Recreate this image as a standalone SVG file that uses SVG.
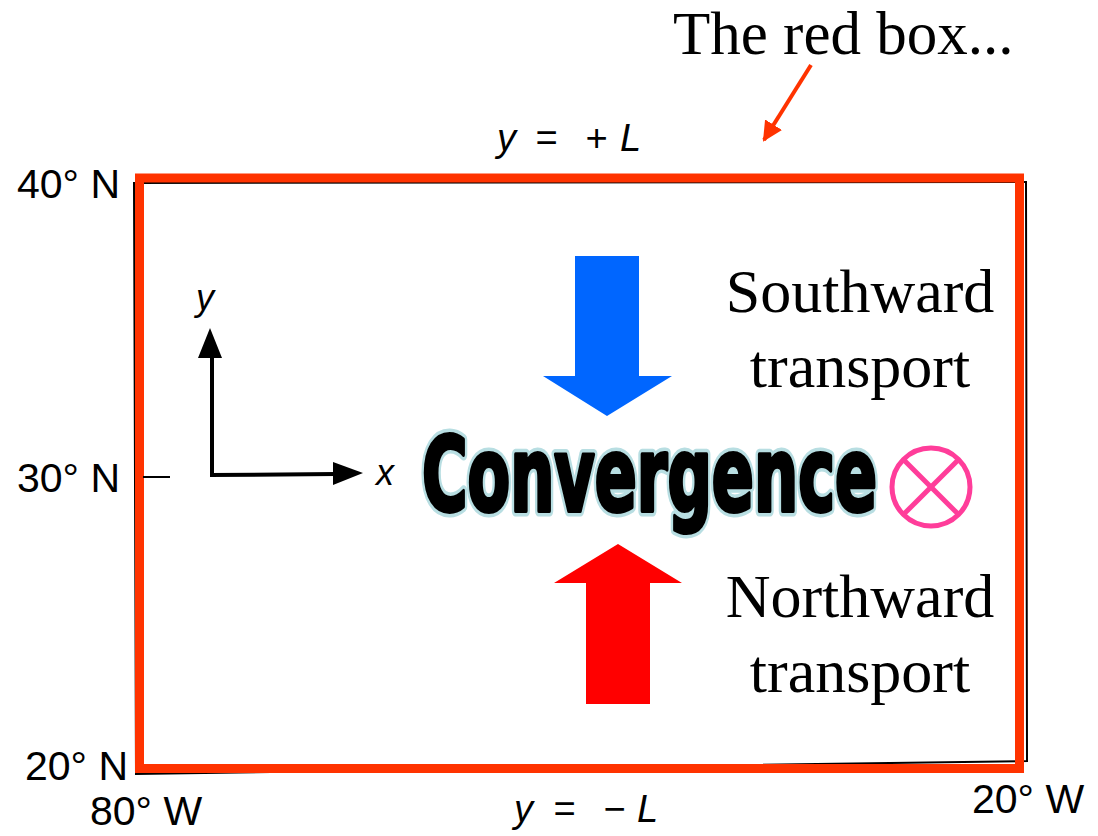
<svg xmlns="http://www.w3.org/2000/svg" width="1098" height="836" viewBox="0 0 1098 836">
<style>
.deg{font-family:"Liberation Sans",Arial,sans-serif;font-size:41px;fill:#000}
.it{font-family:"Liberation Sans",Arial,sans-serif;font-style:italic;font-size:36px;fill:#000}
.eq{font-family:"Liberation Sans",Arial,sans-serif;font-style:italic;font-size:38px;fill:#000}
.serif{font-family:"Liberation Serif","Times New Roman",serif;font-size:62px;fill:#000}
.conv{font-family:"DejaVu Sans Condensed","DejaVu Sans",sans-serif;font-weight:bold;font-size:104px;stroke-linejoin:round}
.convo{fill:#B8DEE2;stroke:#B8DEE2;stroke-width:11}
.convf{fill:#000;stroke:#000;stroke-width:4}
</style>
<defs>
<marker id="redhead" viewBox="0 0 10 10" refX="9" refY="5" markerWidth="5" markerHeight="5" orient="auto" markerUnits="strokeWidth">
<path d="M0,0 L10,5 L0,10 z" fill="#FF3300"/>
</marker>
</defs>
<rect width="1098" height="836" fill="#fff"/>

<g id="frame">
<polygon points="134,183 1026,182 1027,761 136,774" fill="none" stroke="#000" stroke-width="2"/>
<rect x="139.5" y="178" width="880" height="590.5" fill="none" stroke="#FF3300" stroke-width="9"/>
<line x1="143" y1="477" x2="170" y2="477" stroke="#000" stroke-width="2"/>
</g>

<g id="labels">
<text class="deg" x="17" y="198">40° N</text>
<text class="deg" x="17" y="492">30° N</text>
<text class="deg" x="25" y="780">20° N</text>
<text class="deg" x="90" y="825">80° W</text>
<text class="deg" x="972" y="813">20° W</text>
<text class="eq" y="151"><tspan x="497">y</tspan><tspan x="535">=</tspan><tspan x="585">+</tspan><tspan x="620">L</tspan></text>
<text class="eq" y="822"><tspan x="514">y</tspan><tspan x="553">=</tspan><tspan x="603">−</tspan><tspan x="637">L</tspan></text>
</g>

<g id="axes">
<line x1="212" y1="476" x2="212" y2="356" stroke="#000" stroke-width="4"/>
<polygon points="210,328 198,358 222,358" fill="#000"/>
<line x1="210" y1="475" x2="336" y2="474" stroke="#000" stroke-width="4"/>
<polygon points="363,473 333,462 333,485" fill="#000"/>
<text class="it" x="196" y="310">y</text>
<text class="it" x="376" y="485">x</text>
</g>

<g id="title">
<text class="serif" x="673" y="54" style="font-size:61px">The red box...</text>
</g>

<g id="southward">
<polygon points="575,256 639,256 639,376 672,376 607,416 543,376 575,376" fill="#0066FF"/>
<text class="serif" x="860" y="312" text-anchor="middle">Southward</text>
<text class="serif" x="860" y="387" text-anchor="middle">transport</text>
</g>

<g id="northward">
<polygon points="618,544 682,583 650,583 650,704 586,704 586,583 554,583" fill="#FF0000"/>
<text class="serif" x="860" y="617" text-anchor="middle">Northward</text>
<text class="serif" x="860" y="692" text-anchor="middle">transport</text>
</g>

<g id="convergence">
<g transform="translate(422,511) scale(0.7,1)">
<text class="conv convo" x="0" y="0" textLength="650" lengthAdjust="spacingAndGlyphs">Convergence</text>
<text class="conv convf" x="0" y="0" textLength="650" lengthAdjust="spacingAndGlyphs">Convergence</text>
</g>
<circle cx="931" cy="487" r="39" fill="none" stroke="#FF3D9A" stroke-width="5"/>
<line x1="903.4" y1="459.4" x2="958.6" y2="514.6" stroke="#FF3D9A" stroke-width="5"/>
<line x1="958.6" y1="459.4" x2="903.4" y2="514.6" stroke="#FF3D9A" stroke-width="5"/>
</g>

<g id="connectors">
<line x1="811" y1="65" x2="764" y2="140" stroke="#FF3300" stroke-width="4" marker-end="url(#redhead)"/>
</g>
</svg>
